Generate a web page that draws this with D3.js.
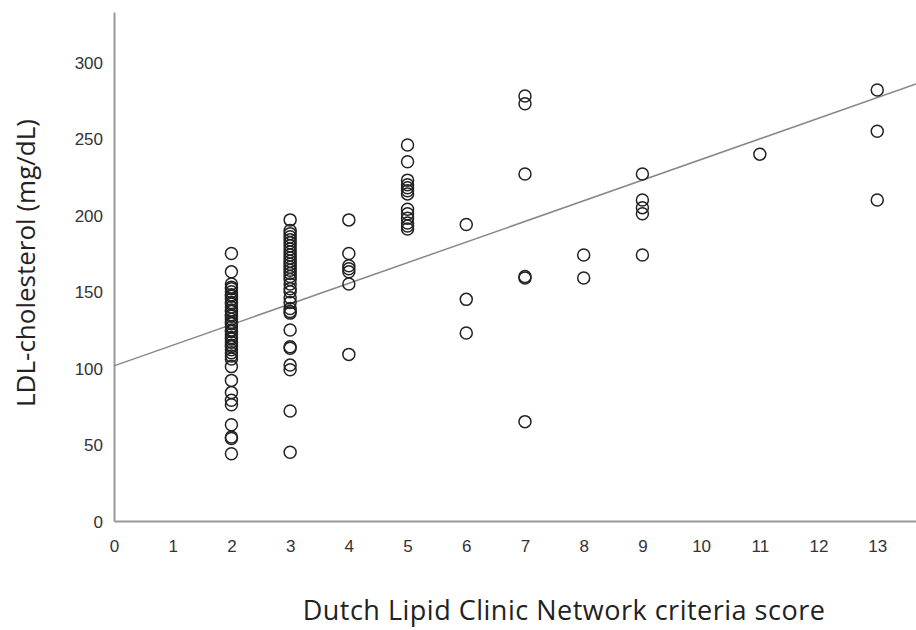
<!DOCTYPE html>
<meta charset="utf-8">
<style>
  body { margin: 0; background: #fff; }
  .tick text { font-family: "Liberation Sans", Arial, sans-serif; font-size: 17px; fill: #333; }
  .title { font-family: "Open Sans", "Noto Sans", sans-serif; font-size: 26px; fill: #222; }
</style>
<script src="https://d3js.org/d3.v7.min.js"></script>
<div id="chart"></div>
<script>

// LDL-cholesterol readings grouped by criteria score
var scores = [2, 3, 4, 5, 6, 7, 8, 9, 11, 13];
var ldl = [
  // score 2
  [175, 163, 155, 153, 152, 150, 148, 147, 145, 143, 142, 140, 138, 137, 135, 134, 132, 130, 129, 127,
   125, 124, 122, 120, 119, 117, 115, 114, 112, 110, 108, 106, 101, 92, 84, 79, 76, 63, 55, 54, 44],
  // score 3
  [197, 190, 188, 186, 184, 182, 180, 178, 176, 174, 172, 170, 168, 166, 164, 162, 160, 158, 155, 152,
   150, 146, 143, 139, 137, 136, 125, 114, 113, 102, 99, 72, 45],
  // score 4
  [197, 175, 167, 165, 163, 155, 109],
  // score 5
  [246, 235, 223, 220, 218, 216, 214, 204, 201, 198, 195, 193, 191],
  // score 6
  [194, 145, 123],
  // score 7
  [278, 273, 227, 160, 159, 65],
  // score 8
  [174, 159],
  // score 9
  [227, 210, 205, 201, 174],
  // score 11
  [240],
  // score 13
  [282, 255, 210]
];
var xTicks = [0, 1, 2, 3, 4, 5, 6, 7, 8, 9, 10, 11, 12, 13];
var yTicks = [0, 50, 100, 150, 200, 250, 300];
// fitted line: intercept and slope
var fit = { a: 101.5, b: 13.5 };

var W = 916, H = 630;
var svg = d3.select("#chart").append("svg")
    .attr("width", W)
    .attr("height", H);

var x = d3.scaleLinear().domain([0, 13.66]).range([114, 916]);
var y = d3.scaleLinear().domain([0, 333]).range([521, 12]);

var points = [];
scores.forEach(function(s, i) {
  ldl[i].forEach(function(v) { points.push({ score: s, ldl: v }); });
});

// axes
var xAxis = svg.append("g")
    .attr("transform", "translate(0," + y(0) + ")")
    .call(d3.axisBottom(x).tickValues(xTicks).tickSize(0).tickPadding(19).tickFormat(d3.format("d")));
var yAxis = svg.append("g")
    .attr("transform", "translate(" + x(0) + ",0)")
    .call(d3.axisLeft(y).tickValues(yTicks).tickSize(0).tickPadding(11));
[xAxis, yAxis].forEach(function(g) {
  g.select(".domain").attr("stroke", "#999").attr("stroke-width", 2);
});
yAxis.selectAll(".tick text").attr("dy", "0.36em");

// regression line
svg.append("line")
    .attr("x1", x(0)).attr("y1", y(fit.a))
    .attr("x2", x(13.66)).attr("y2", y(fit.a + fit.b * 13.66))
    .attr("stroke", "#888")
    .attr("stroke-width", 1.5);

// dots
svg.append("g")
  .selectAll("circle")
  .data(points)
  .enter()
  .append("circle")
    .attr("cx", function(d) { return x(d.score); })
    .attr("cy", function(d) { return y(d.ldl); })
    .attr("r", 6)
    .attr("fill", "none")
    .attr("stroke", "#222")
    .attr("stroke-width", 1.5);

// axis titles
svg.append("text")
    .attr("class", "title")
    .attr("x", 564)
    .attr("y", 620)
    .attr("text-anchor", "middle")
    .style("font-size", "27px")
    .style("letter-spacing", "0.5px")
    .text("Dutch Lipid Clinic Network criteria score");
svg.append("text")
    .attr("class", "title")
    .attr("transform", "translate(35,263) rotate(-90)")
    .attr("text-anchor", "middle")
    .text("LDL-cholesterol (mg/dL)");

</script>
